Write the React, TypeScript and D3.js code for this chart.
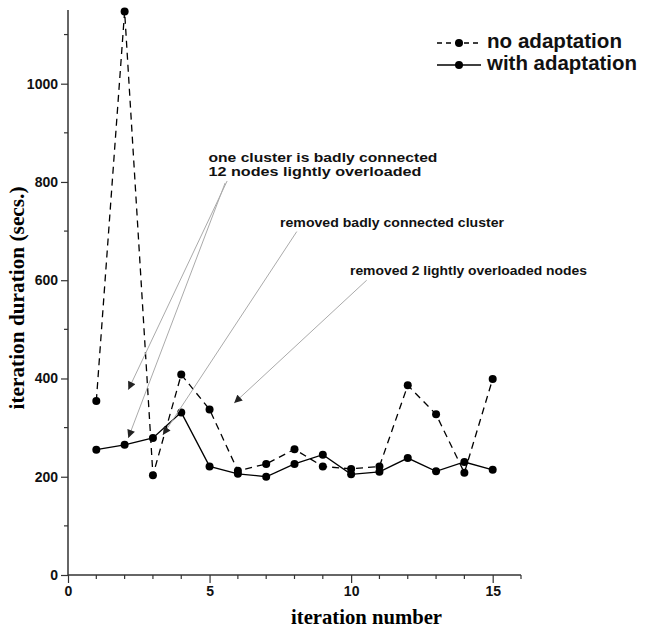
import { useEffect, useRef } from "react";
import * as d3 from "d3";

// iteration numbers on the x axis
const iterations = [1, 2, 3, 4, 5, 6, 7, 8, 9, 10, 11, 12, 13, 14, 15];

// iteration duration (secs.) per iteration
const noAdaptation = [354, 1147, 203, 408, 337, 212, 226, 256, 221, 216, 221, 386, 327, 208, 399];
const withAdaptation = [255, 265, 279, 331, 221, 206, 200, 226, 245, 205, 210, 238, 211, 230, 214];

const xTickLabels = [0, 5, 10, 15];
const yTickLabels = [0, 200, 400, 600, 800, 1000];

const seriesNames = ["no adaptation", "with adaptation"];

const W = 652;
const H = 628;

export default function App(): JSX.Element {
    const svgRef = useRef<SVGSVGElement>(null);

    useEffect(() => {
        document.body.style.margin = "0";
        const svg = d3.select(svgRef.current);
        svg.selectAll("*").remove();

        const x = d3.scaleLinear().domain([0, 16]).range([68, 521]);
        const y = d3.scaleLinear().domain([0, 1150]).range([575, 10]);

        const axisColor = "#333";
        const sans = "'Liberation Sans', Arial, sans-serif";
        const serif = "'Liberation Serif', 'Times New Roman', serif";

        // arrowhead marker
        svg.append("defs").append("marker")
            .attr("id", "head")
            .attr("viewBox", "0 0 10 10")
            .attr("refX", 10)
            .attr("refY", 5)
            .attr("markerWidth", 9)
            .attr("markerHeight", 8)
            .attr("markerUnits", "userSpaceOnUse")
            .attr("orient", "auto")
            .append("path")
            .attr("d", "M0,0 L10,5 L0,10 Z")
            .attr("fill", "#222");

        // axes
        const xAxis = svg.append("g").attr("transform", "translate(0,575)");
        xAxis.call(d3.axisBottom(x).tickValues(xTickLabels).tickSize(8).tickFormat(d3.format("d")));
        xAxis.append("g").selectAll("line")
            .data(d3.range(0, 17).filter(v => v % 5 !== 0))
            .enter().append("line")
            .attr("x1", d => x(d)).attr("x2", d => x(d))
            .attr("y1", 0).attr("y2", 4)
            .attr("stroke", axisColor).attr("stroke-width", 1.2);

        const yAxis = svg.append("g").attr("transform", "translate(68,0)");
        yAxis.call(d3.axisLeft(y).tickValues(yTickLabels).tickSize(7).tickFormat(d3.format("d")));
        yAxis.append("g").selectAll("line")
            .data(d3.range(100, 1200, 200))
            .enter().append("line")
            .attr("y1", d => y(d)).attr("y2", d => y(d))
            .attr("x1", 0).attr("x2", -4)
            .attr("stroke", axisColor).attr("stroke-width", 1.2);

        svg.selectAll(".domain")
            .attr("stroke", axisColor)
            .attr("stroke-width", 1.5)
            .attr("d", function () {
                return (this as SVGPathElement).parentElement === xAxis.node()
                    ? `M${x(0)},0H${x(16)}`
                    : `M0,${y(0)}V${y(1150)}`;
            });
        svg.selectAll(".tick line").attr("stroke", axisColor).attr("stroke-width", 1.2);
        svg.selectAll(".tick text")
            .attr("font-family", sans)
            .attr("font-weight", "bold")
            .attr("font-size", 14)
            .attr("fill", "#111");
        xAxis.selectAll(".tick text").attr("dy", "0.71em").attr("y", 11);
        yAxis.selectAll(".tick text").attr("x", -10);

        // axis titles
        svg.append("text")
            .attr("x", 291).attr("y", 624)
            .attr("font-family", serif).attr("font-weight", "bold").attr("font-size", 21)
            .attr("textLength", 151).attr("lengthAdjust", "spacingAndGlyphs")
            .text("iteration number");

        svg.append("text")
            .attr("transform", `translate(24,${298}) rotate(-90)`)
            .attr("text-anchor", "middle")
            .attr("font-family", serif).attr("font-weight", "bold").attr("font-size", 21)
            .attr("textLength", 223).attr("lengthAdjust", "spacingAndGlyphs")
            .text("iteration duration (secs.)");

        // series lines
        const line = d3.line<number>()
            .x((_, i) => x(iterations[i]))
            .y(d => y(d));

        const series = [
            { values: noAdaptation, dash: "7,5" },
            { values: withAdaptation, dash: null as string | null },
        ];

        series.forEach(s => {
            svg.append("path")
                .attr("d", line(s.values))
                .attr("fill", "none")
                .attr("stroke", "#000")
                .attr("stroke-width", 1.3)
                .attr("stroke-dasharray", s.dash);
        });
        series.forEach(s => {
            svg.append("g").selectAll("circle")
                .data(s.values)
                .enter().append("circle")
                .attr("cx", (_, i) => x(iterations[i]))
                .attr("cy", d => y(d))
                .attr("r", 4)
                .attr("fill", "#000");
        });

        // annotations (positions in data units)
        const notes = [
            { at: [4.96, 841], lines: ["one cluster is badly connected", "12 nodes lightly overloaded"], widths: [229, 213] },
            { at: [7.49, 709], lines: ["removed badly connected cluster"], widths: [224] },
            { at: [9.96, 611], lines: ["removed 2 lightly overloaded nodes"], widths: [237] },
        ];
        notes.forEach(n => {
            n.lines.forEach((t, i) => {
                svg.append("text")
                    .attr("x", x(n.at[0]))
                    .attr("y", y(n.at[1]) + i * 14)
                    .attr("font-family", sans).attr("font-weight", "bold").attr("font-size", 13.5)
                    .attr("textLength", n.widths[i]).attr("lengthAdjust", "spacingAndGlyphs")
                    .attr("fill", "#111")
                    .text(t);
            });
        });

        const arrows = [
            { from: [5.62, 802], to: [2.13, 377] },
            { from: [5.55, 798], to: [2.13, 279] },
            { from: [8.08, 699], to: [3.35, 285] },
            { from: [10.55, 600], to: [5.87, 350] },
        ];
        svg.append("g").selectAll("line")
            .data(arrows)
            .enter().append("line")
            .attr("x1", d => x(d.from[0])).attr("y1", d => y(d.from[1]))
            .attr("x2", d => x(d.to[0])).attr("y2", d => y(d.to[1]))
            .attr("stroke", "#aaa")
            .attr("stroke-width", 1)
            .attr("marker-end", "url(#head)");

        // legend
        const legend = svg.append("g");
        const legendRows = [
            { name: seriesNames[0], dash: "5,4", y: 43, w: 135 },
            { name: seriesNames[1], dash: null as string | null, y: 65, w: 150 },
        ];
        legendRows.forEach(r => {
            legend.append("line")
                .attr("x1", 437).attr("x2", 481)
                .attr("y1", r.y).attr("y2", r.y)
                .attr("stroke", "#000").attr("stroke-width", 1.3)
                .attr("stroke-dasharray", r.dash);
            legend.append("circle")
                .attr("cx", 459).attr("cy", r.y).attr("r", 4).attr("fill", "#000");
            legend.append("text")
                .attr("x", 487).attr("y", r.y + 5)
                .attr("font-family", sans).attr("font-weight", "bold").attr("font-size", 21)
                .attr("textLength", r.w).attr("lengthAdjust", "spacingAndGlyphs")
                .attr("fill", "#111")
                .text(r.name);
        });
    }, []);

    return <svg ref={svgRef} width={W} height={H} style={{ display: "block" }} />;
}
